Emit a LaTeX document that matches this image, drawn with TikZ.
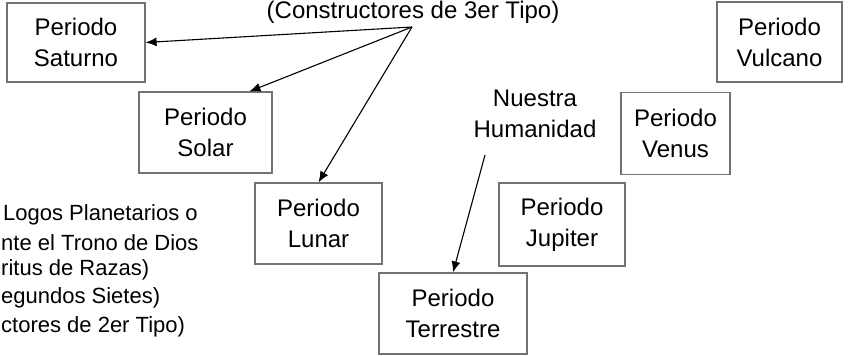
\documentclass[tikz,border=0pt]{standalone}
\usepackage{fontspec}
\setmainfont{Liberation Sans}
\usetikzlibrary{arrows.meta}
\begin{document}
\begin{tikzpicture}[x=1pt,y=-1pt,
  period/.style={draw=black!55, line width=1.2pt, fill=white, rectangle, inner sep=0pt,
    align=center, font=\fontsize{24}{31}\selectfont},
  lbl/.style={inner sep=0pt, align=center, font=\fontsize{24}{31}\selectfont},
  side/.style={inner sep=0pt, anchor=west, font=\fontsize{22}{28}\selectfont},
  arr/.style={-{Latex[length=11pt,width=9pt]}, line width=1.1pt}]
\useasboundingbox (0,0) rectangle (854,356);
\fill[white] (0,0) rectangle (854,356);

\node[period, minimum width=138pt, minimum height=79pt] (sat) at (76,42.5) {Periodo\\Saturno};
\node[period, minimum width=133pt, minimum height=81pt] (sol) at (205.5,132.5) {Periodo\\Solar};
\node[period, minimum width=127pt, minimum height=81pt] (lun) at (318.5,223.5) {Periodo\\Lunar};
\node[period, minimum width=148pt, minimum height=81pt] (ter) at (453,313.5) {Periodo\\Terrestre};
\node[period, minimum width=126pt, minimum height=83pt] (jup) at (562,224.5) {Periodo\\Jupiter};
\node[period, minimum width=109pt, minimum height=82pt] (ven) at (675.5,133.5) {Periodo\\Venus};
\node[period, minimum width=125pt, minimum height=80pt] (vul) at (779.5,42) {Periodo\\Vulcano};

\node[lbl, anchor=base] (con) at (413,18) {(Constructores de 3er Tipo)};
\coordinate (o) at (412,27);
\node[lbl] (hum) at (535,114) {Nuestra\\Humanidad};
\coordinate (h) at (485,155);

\node[side] (l1) at (3,215) {Logos Planetarios o};
\node[side] (l2) at (1,243) {nte el Trono de Dios};
\node[side] (l3) at (1,270) {ritus de Razas)};
\node[side] (l4) at (1,298) {egundos Sietes)};
\node[side] (l5) at (1,327) {ctores de 2er Tipo)};

\draw[arr] (o) -- (sat.east);
\draw[arr] (o) -- ([xshift=44pt]sol.north);
\draw[arr] (o) -- (lun.north);
\draw[arr] (h) -- (ter.north);
\end{tikzpicture}
\end{document}
